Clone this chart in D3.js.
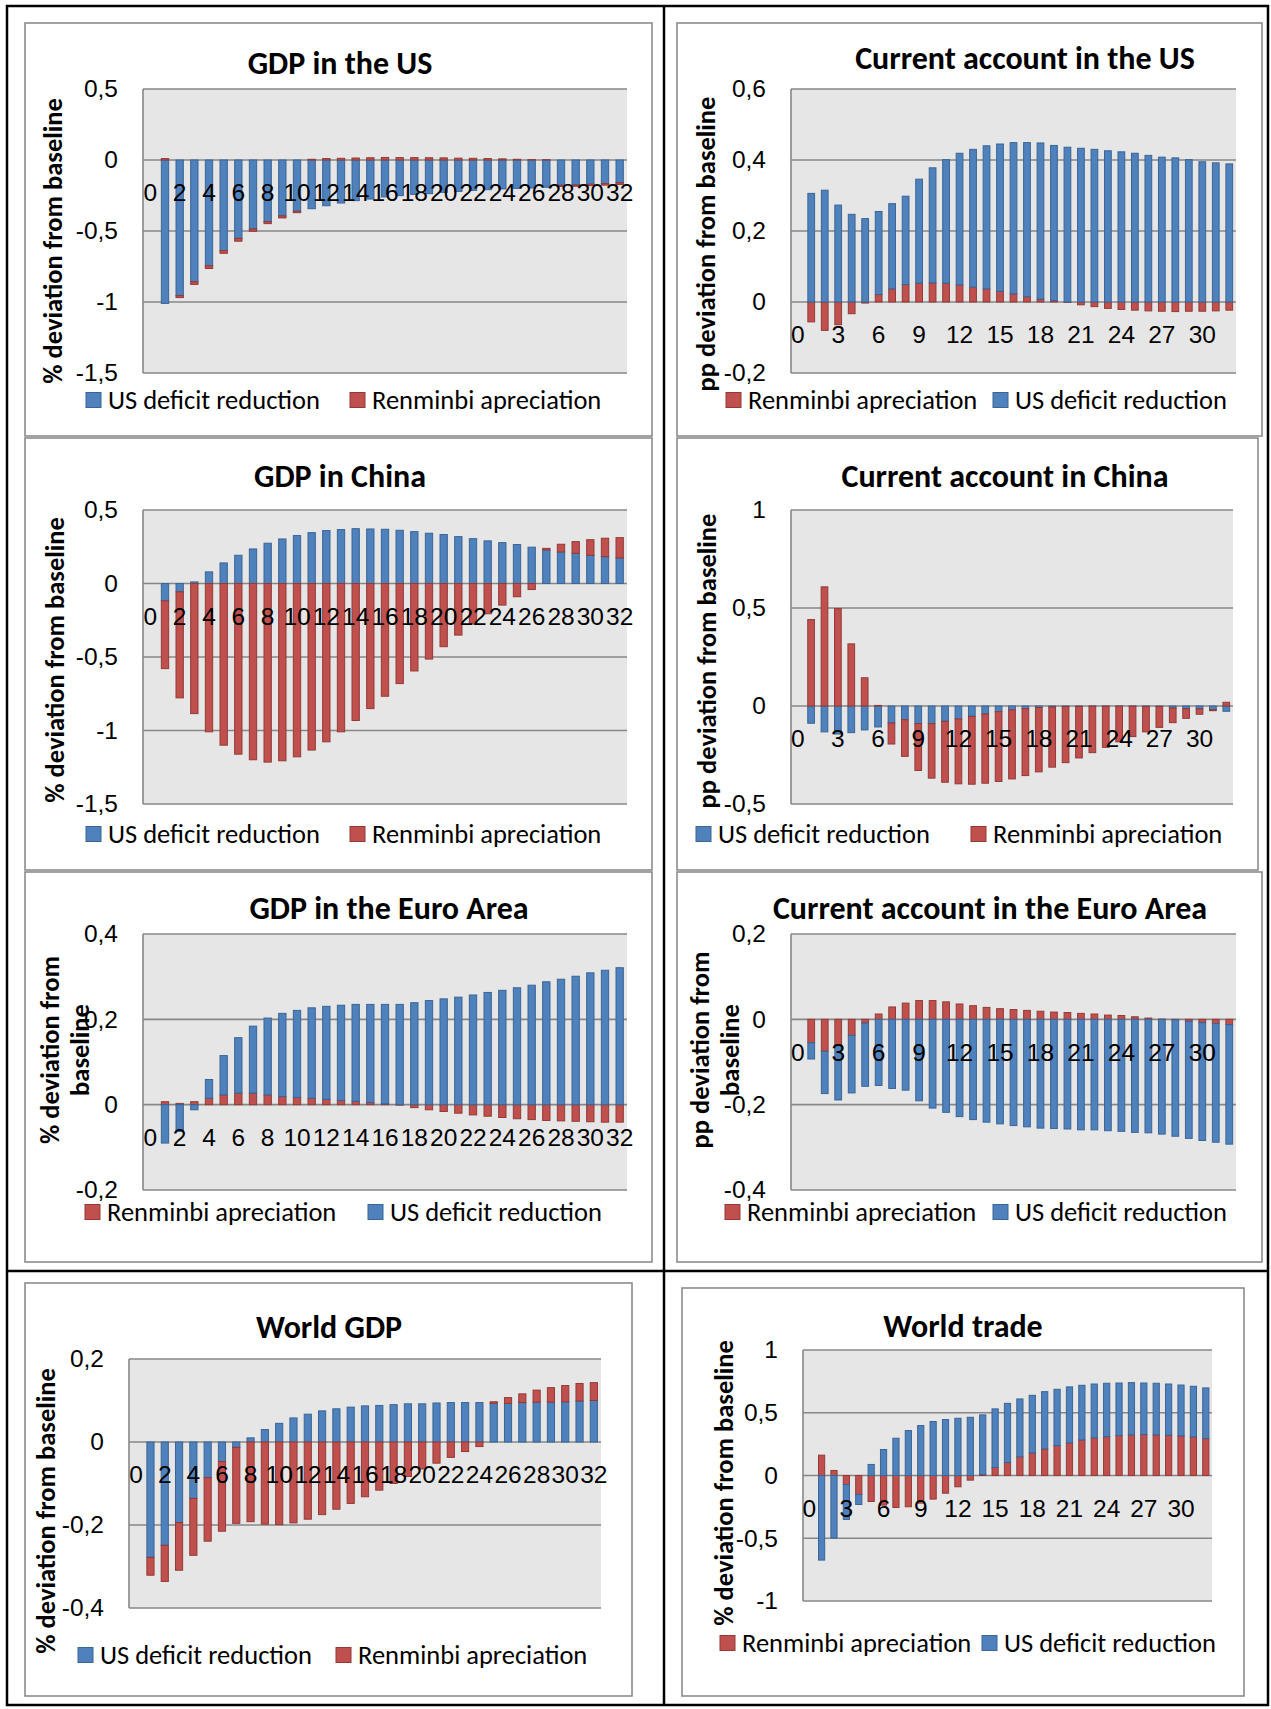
<!DOCTYPE html>
<html>
<head>
<meta charset="utf-8">
<script src="https://cdn.jsdelivr.net/npm/d3@7"></script>
<style>
  body { margin: 0; background: #fff; }
  svg { display: block; font-family: Calibri, Carlito, "Open Sans", sans-serif; }
</style>
</head>
<body>
<script>
// quarters on the category axis; quarter 0 has no bar
var quarters = [0, 1, 2, 3, 4, 5, 6, 7, 8, 9, 10, 11, 12, 13, 14, 15, 16,
    17, 18, 19, 20, 21, 22, 23, 24, 25, 26, 27, 28, 29, 30, 31, 32];
var barQuarters = quarters.slice(1);

var ticksEvery2 = [0, 2, 4, 6, 8, 10, 12, 14, 16, 18, 20, 22, 24, 26, 28, 30, 32];
var ticksEvery3 = [0, 3, 6, 9, 12, 15, 18, 21, 24, 27, 30];

// GDP in the US
var gdpUsDeficit = [-1.01, -0.955, -0.857, -0.744, -0.638, -0.552, -0.486, -0.434, -0.394, -0.361, -0.343,
    -0.322, -0.303, -0.286, -0.275, -0.26, -0.251, -0.242, -0.237, -0.228, -0.221, -0.214, -0.209, -0.204,
    -0.2, -0.197, -0.192, -0.178, -0.176, -0.171, -0.166, -0.16];
var gdpUsRenminbi = [0.01, -0.014, -0.019, -0.02, -0.019, -0.02, -0.016, -0.014, -0.014, -0.01, 0.005,
    0.01, 0.012, 0.014, 0.016, 0.018, 0.017, 0.017, 0.016, 0.015, 0.013, 0.012, 0.01, 0.008,
    0.005, 0.003, 0.002, -0.009, -0.009, -0.01, -0.011, -0.013];

// Current account in the US
var caUsRenminbi = [-0.056, -0.08, -0.064, -0.033, -0.003, 0.021, 0.037, 0.049, 0.053, 0.054, 0.053,
    0.048, 0.042, 0.037, 0.03, 0.023, 0.015, 0.008, 0.004, -0.001, -0.008, -0.013, -0.018, -0.021,
    -0.023, -0.025, -0.026, -0.027, -0.026, -0.026, -0.025, -0.023];
var caUsDeficit = [0.306, 0.315, 0.273, 0.247, 0.235, 0.234, 0.24, 0.249, 0.293, 0.324, 0.348,
    0.371, 0.388, 0.403, 0.415, 0.426, 0.434, 0.44, 0.437, 0.436, 0.433, 0.43, 0.426, 0.423,
    0.419, 0.413, 0.408, 0.406, 0.401, 0.395, 0.392, 0.389];

// GDP in China
var gdpCnDeficit = [-0.118, -0.057, 0.011, 0.079, 0.14, 0.192, 0.235, 0.274, 0.303, 0.326, 0.346,
    0.36, 0.367, 0.373, 0.371, 0.369, 0.362, 0.353, 0.342, 0.333, 0.319, 0.305, 0.29, 0.278,
    0.265, 0.247, 0.228, 0.215, 0.206, 0.192, 0.183, 0.174];
var gdpCnRenminbi = [-0.461, -0.721, -0.885, -1.009, -1.1, -1.161, -1.199, -1.215, -1.206, -1.179, -1.133,
    -1.077, -1.009, -0.932, -0.851, -0.767, -0.681, -0.595, -0.514, -0.43, -0.351, -0.276, -0.206, -0.147,
    -0.09, -0.041, 0.011, 0.052, 0.079, 0.106, 0.125, 0.138];

// Current account in China
var caCnDeficit = [-0.088, -0.132, -0.143, -0.136, -0.122, -0.107, -0.087, -0.07, -0.09, -0.09, -0.078,
    -0.066, -0.053, -0.041, -0.029, -0.02, -0.014, -0.008, -0.005, -0.003, -0.002, -0.001, -0.001, -0.001,
    -0.001, -0.002, -0.003, -0.01, -0.014, -0.015, -0.019, -0.027];
var caCnRenminbi = [0.441, 0.608, 0.497, 0.317, 0.144, 0.003, -0.107, -0.187, -0.239, -0.278, -0.311,
    -0.331, -0.346, -0.353, -0.356, -0.352, -0.341, -0.328, -0.307, -0.286, -0.263, -0.237, -0.21, -0.182,
    -0.155, -0.13, -0.106, -0.075, -0.049, -0.027, -0.005, 0.019];

// GDP in the Euro Area
var gdpEaRenminbi = [0.007, 0.003, 0.007, 0.015, 0.023, 0.027, 0.027, 0.023, 0.019, 0.017, 0.015,
    0.0125, 0.01, 0.008, 0.005, 0.002, -0.001, -0.007, -0.012, -0.016, -0.02, -0.024, -0.027, -0.03,
    -0.033, -0.035, -0.037, -0.038, -0.039, -0.04, -0.041, -0.041];
var gdpEaDeficit = [-0.09, -0.063, -0.012, 0.044, 0.092, 0.13, 0.157, 0.18, 0.195, 0.204, 0.212,
    0.218, 0.223, 0.227, 0.23, 0.233, 0.235, 0.239, 0.244, 0.248, 0.252, 0.257, 0.263, 0.268,
    0.274, 0.28, 0.288, 0.294, 0.301, 0.309, 0.315, 0.321];

// Current account in the Euro Area
var caEaRenminbi = [-0.055, -0.075, -0.062, -0.0375, -0.009, 0.0125, 0.029, 0.038, 0.044, 0.044, 0.041,
    0.036, 0.032, 0.028, 0.025, 0.023, 0.021, 0.019, 0.017, 0.016, 0.014, 0.0125, 0.01, 0.009,
    0.006, 0.003, 0.0005, -0.001, -0.005, -0.008, -0.01, -0.0125];
var caEaDeficit = [-0.038, -0.099, -0.127, -0.135, -0.148, -0.155, -0.162, -0.166, -0.191, -0.208, -0.218,
    -0.228, -0.235, -0.241, -0.245, -0.249, -0.252, -0.255, -0.256, -0.257, -0.259, -0.259, -0.261, -0.2625,
    -0.265, -0.266, -0.269, -0.273, -0.274, -0.276, -0.278, -0.28];

// World GDP
var worldGdpDeficit = [-0.278, -0.249, -0.194, -0.136, -0.086, -0.047, -0.013, 0.01, 0.03, 0.045, 0.058,
    0.067, 0.075, 0.08, 0.084, 0.087, 0.088, 0.09, 0.092, 0.092, 0.094, 0.095, 0.095, 0.095,
    0.093, 0.093, 0.095, 0.096, 0.096, 0.097, 0.099, 0.1];
var worldGdpRenminbi = [-0.043, -0.087, -0.115, -0.137, -0.153, -0.168, -0.183, -0.192, -0.198, -0.199, -0.195,
    -0.186, -0.175, -0.162, -0.148, -0.132, -0.116, -0.1, -0.083, -0.065, -0.051, -0.037, -0.023, -0.011,
    0.004, 0.014, 0.021, 0.029, 0.035, 0.039, 0.042, 0.043];

// World trade
var worldTradeRenminbi = [0.162, 0.04, -0.072, -0.151, -0.207, -0.236, -0.255, -0.249, -0.22, -0.188, -0.141,
    -0.09, -0.037, 0.008, 0.064, 0.103, 0.149, 0.18, 0.212, 0.239, 0.26, 0.284, 0.3, 0.31,
    0.318, 0.324, 0.326, 0.324, 0.321, 0.316, 0.308, 0.294];
var worldTradeDeficit = [-0.674, -0.499, -0.278, -0.08, 0.088, 0.207, 0.297, 0.358, 0.398, 0.43, 0.446,
    0.456, 0.464, 0.475, 0.467, 0.472, 0.461, 0.459, 0.456, 0.448, 0.446, 0.435, 0.429, 0.425,
    0.419, 0.416, 0.411, 0.411, 0.408, 0.405, 0.403, 0.404];

var seriesNames = {deficit: "US deficit reduction", renminbi: "Renminbi apreciation"};
var fills = {deficit: "#4f81bd", renminbi: "#c0504d"};
var strokes = {deficit: "#3a6595", renminbi: "#933a37"};

// layout: box and plot are [left, top, right, bottom]
var panels = [
    {title: "GDP in the US", yLabel: ["% deviation from baseline"],
     series: [["deficit", gdpUsDeficit], ["renminbi", gdpUsRenminbi]],
     yDomain: [-1.5, 0.5], yTicks: [-1.5, -1, -0.5, 0, 0.5], xTicks: ticksEvery2,
     box: [25, 23, 652, 436], plot: [143, 89, 627, 373], titlePos: [340, 74],
     yLabelX: [53], yLabelY: 241, legendY: 400, legendX: [86, 350]},
    {title: "Current account in the US", yLabel: ["pp deviation from baseline"],
     series: [["renminbi", caUsRenminbi], ["deficit", caUsDeficit]],
     yDomain: [-0.2, 0.6], yTicks: [-0.2, 0, 0.2, 0.4, 0.6], xTicks: ticksEvery3,
     box: [677, 23, 1262, 436], plot: [791, 89, 1236, 373], titlePos: [1025, 69],
     yLabelX: [706], yLabelY: 244, legendY: 400, legendX: [726, 993]},
    {title: "GDP in China", yLabel: ["% deviation from baseline"],
     series: [["deficit", gdpCnDeficit], ["renminbi", gdpCnRenminbi]],
     yDomain: [-1.5, 0.5], yTicks: [-1.5, -1, -0.5, 0, 0.5], xTicks: ticksEvery2,
     box: [25, 438, 652, 870], plot: [143, 510, 627, 804], titlePos: [340, 487],
     yLabelX: [55], yLabelY: 660, legendY: 834, legendX: [86, 350]},
    {title: "Current account in China", yLabel: ["pp deviation from baseline"],
     series: [["deficit", caCnDeficit], ["renminbi", caCnRenminbi]],
     yDomain: [-0.5, 1], yTicks: [-0.5, 0, 0.5, 1], xTicks: ticksEvery3,
     box: [677, 438, 1258, 870], plot: [791, 510, 1233, 804], titlePos: [1005, 487],
     yLabelX: [707], yLabelY: 661, legendY: 834, legendX: [696, 971]},
    {title: "GDP in the Euro Area", yLabel: ["% deviation from", "baseline"],
     series: [["renminbi", gdpEaRenminbi], ["deficit", gdpEaDeficit]],
     yDomain: [-0.2, 0.4], yTicks: [-0.2, 0, 0.2, 0.4], xTicks: ticksEvery2,
     box: [25, 872, 652, 1262], plot: [143, 934, 627, 1190], titlePos: [389, 919],
     yLabelX: [50, 80], yLabelY: 1050, legendY: 1212, legendX: [85, 368]},
    {title: "Current account in the Euro Area", yLabel: ["pp deviation from", "baseline"],
     series: [["renminbi", caEaRenminbi], ["deficit", caEaDeficit]],
     yDomain: [-0.4, 0.2], yTicks: [-0.4, -0.2, 0, 0.2], xTicks: ticksEvery3,
     box: [677, 872, 1262, 1262], plot: [791, 934, 1236, 1190], titlePos: [990, 919],
     yLabelX: [700, 730], yLabelY: 1050, legendY: 1212, legendX: [725, 993]},
    {title: "World GDP", yLabel: ["% deviation from baseline"],
     series: [["deficit", worldGdpDeficit], ["renminbi", worldGdpRenminbi]],
     yDomain: [-0.4, 0.2], yTicks: [-0.4, -0.2, 0, 0.2], xTicks: ticksEvery2,
     box: [25, 1283, 632, 1696], plot: [129, 1359, 601, 1608], titlePos: [329, 1338],
     yLabelX: [46], yLabelY: 1511, legendY: 1655, legendX: [78, 336]},
    {title: "World trade", yLabel: ["% deviation from baseline"],
     series: [["renminbi", worldTradeRenminbi], ["deficit", worldTradeDeficit]],
     yDomain: [-1, 1], yTicks: [-1, -0.5, 0, 0.5, 1], xTicks: ticksEvery3,
     box: [682, 1288, 1244, 1696], plot: [803, 1350, 1212, 1601], titlePos: [963, 1337],
     yLabelX: [724], yLabelY: 1483, legendY: 1643, legendX: [720, 982]}
];

var locale = d3.formatLocale({decimal: ",", thousands: ".", grouping: [3], currency: ["", ""], minus: "-"});
var fmt = locale.format("");

var svg = d3.select("body").append("svg")
    .attr("width", 1271)
    .attr("height", 1709);

svg.append("rect").attr("width", 1271).attr("height", 1709).attr("fill", "#fff");

function drawPanel(p) {
    var g = svg.append("g");
    var b = p.box, pl = p.plot;

    g.append("rect")
        .attr("x", b[0]).attr("y", b[1])
        .attr("width", b[2] - b[0]).attr("height", b[3] - b[1])
        .attr("fill", "#fff").attr("stroke", "#8c8c8c").attr("stroke-width", 1.6);

    var x = d3.scaleBand().domain(quarters).range([pl[0], pl[2]]);
    var y = d3.scaleLinear().domain(p.yDomain).range([pl[3], pl[1]]);

    // plot area
    g.append("rect")
        .attr("x", pl[0]).attr("y", pl[1])
        .attr("width", pl[2] - pl[0]).attr("height", pl[3] - pl[1])
        .attr("fill", "#e6e6e6");

    g.append("g").selectAll("line")
        .data(p.yTicks)
        .enter().append("line")
        .attr("x1", pl[0]).attr("x2", pl[2])
        .attr("y1", function (d) { return y(d); })
        .attr("y2", function (d) { return y(d); })
        .attr("stroke", "#878787").attr("stroke-width", 1.6);

    g.append("line")
        .attr("x1", pl[0]).attr("x2", pl[0])
        .attr("y1", pl[1]).attr("y2", pl[3])
        .attr("stroke", "#878787").attr("stroke-width", 1.6);

    // stacked bars, positives and negatives stacked apart like Excel
    var keys = p.series.map(function (s) { return s[0]; });
    var rows = barQuarters.map(function (q, i) {
        var r = {q: q};
        p.series.forEach(function (s) { r[s[0]] = s[1][i]; });
        return r;
    });
    var stacked = d3.stack().keys(keys).offset(d3.stackOffsetDiverging)(rows);
    var bw = x.bandwidth() * 0.5;

    g.append("g").selectAll("g")
        .data(stacked)
        .enter().append("g")
        .attr("fill", function (d) { return fills[d.key]; })
        .attr("stroke", function (d) { return strokes[d.key]; })
        .attr("stroke-width", 1)
        .selectAll("rect")
        .data(function (d) { return d; })
        .enter().append("rect")
        .attr("x", function (d) { return x(d.data.q) + (x.bandwidth() - bw) / 2; })
        .attr("width", bw)
        .attr("y", function (d) { return y(Math.max(d[0], d[1])); })
        .attr("height", function (d) { return Math.abs(y(d[0]) - y(d[1])); });

    // value axis labels
    var yAxis = g.append("g")
        .attr("transform", "translate(" + pl[0] + ",0)")
        .call(d3.axisLeft(y).tickValues(p.yTicks).tickFormat(fmt).tickSize(0).tickPadding(25));
    yAxis.select(".domain").remove();
    yAxis.selectAll("text").attr("font-size", 24.5).attr("font-family", null).attr("fill", "#000");

    // category labels sit under the zero line
    var xAxis = g.append("g")
        .attr("transform", "translate(0," + y(0) + ")")
        .call(d3.axisBottom(x).tickValues(p.xTicks).tickSize(0).tickPadding(24));
    xAxis.select(".domain").remove();
    xAxis.selectAll("text").attr("font-size", 24.5).attr("font-family", null).attr("fill", "#000");

    g.append("text")
        .attr("x", p.titlePos[0]).attr("y", p.titlePos[1])
        .attr("text-anchor", "middle")
        .attr("font-size", 32).attr("font-weight", "bold")
        .text(p.title);

    p.yLabel.forEach(function (line, i) {
        g.append("text")
            .attr("transform", "translate(" + p.yLabelX[i] + "," + p.yLabelY + ") rotate(-90)")
            .attr("text-anchor", "middle")
            .attr("dominant-baseline", "central")
            .attr("font-size", 26.5).attr("font-weight", "bold")
            .text(line);
    });

    var legend = g.append("g").selectAll("g")
        .data(keys)
        .enter().append("g")
        .attr("transform", function (d, i) {
            return "translate(" + p.legendX[i] + "," + p.legendY + ")";
        });
    legend.append("rect")
        .attr("x", 0).attr("y", -7.5)
        .attr("width", 15).attr("height", 15)
        .attr("fill", function (d) { return fills[d]; })
        .attr("stroke", function (d) { return strokes[d]; });
    legend.append("text")
        .attr("x", 22).attr("y", 0)
        .attr("dominant-baseline", "central")
        .attr("font-size", 26.5)
        .text(function (d) { return seriesNames[d]; });
}

panels.forEach(drawPanel);

// the surrounding table rules
var rules = svg.append("g").attr("stroke", "#000").attr("stroke-width", 2.5).attr("fill", "none");
rules.append("rect").attr("x", 7).attr("y", 6).attr("width", 1261).attr("height", 1699);
rules.append("line").attr("x1", 664).attr("x2", 664).attr("y1", 6).attr("y2", 1705);
rules.append("line").attr("x1", 7).attr("x2", 1268).attr("y1", 1271).attr("y2", 1271);
</script>
</body>
</html>
